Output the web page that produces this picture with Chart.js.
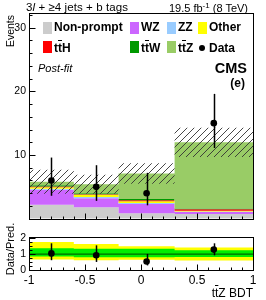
<!DOCTYPE html>
<html>
<head>
<meta charset="utf-8">
<title>ttZ BDT, 3l + 4 jets</title>
<script src="https://cdn.jsdelivr.net/npm/chart.js@4.4.1/dist/chart.umd.min.js"></script>
<style>
  body { margin: 0; background: #fff; }
  #page { position: relative; width: 266px; height: 300px; overflow: hidden; font-family: "Liberation Sans", Arial, Helvetica, sans-serif; color: #000; }
  #page canvas { position: absolute; left: 0; }
  .txt { position: absolute; white-space: nowrap; line-height: 1; }
  .bar { text-decoration: overline; }
  .leg { position: absolute; font-weight: bold; font-size: 12px; line-height: 1; white-space: nowrap; }
  .box { position: absolute; width: 9px; height: 12px; }
  .dot { position: absolute; width: 6px; height: 6px; border-radius: 50%; background: #000; }
  .rot { position: absolute; transform-origin: 0 0; transform: rotate(-90deg); white-space: nowrap; line-height: 1; }
</style>
</head>
<body>
<div id="page">
  <canvas id="mainChart" width="266" height="228" style="top:0"></canvas>
  <canvas id="ratioChart" width="266" height="72" style="top:228px"></canvas>

  <div id="hdrLeft" class="txt" style="left:26px;top:2px;font-size:11.5px">3<i>l</i> + ≥4 jets + b tags</div>
  <div id="hdrRight" class="txt" style="right:18px;top:2px;font-size:11px">19.5 fb<sup style="font-size:8px;vertical-align:4px">-1</sup> (8 TeV)</div>

  <div class="box" style="left:43px;top:22px;background:#cccccc"></div>
  <div class="leg" style="left:54px;top:21px">Non-prompt</div>
  <div class="box" style="left:130px;top:22px;background:#cc66ff"></div>
  <div class="leg" style="left:141px;top:21px">WZ</div>
  <div class="box" style="left:167px;top:22px;background:#99ccff"></div>
  <div class="leg" style="left:178px;top:21px">ZZ</div>
  <div class="box" style="left:198px;top:22px;background:#ffff00"></div>
  <div class="leg" style="left:209px;top:21px">Other</div>

  <div class="box" style="left:43px;top:41px;background:#ff0000"></div>
  <div class="leg" style="left:54px;top:42px">t<span class="bar">t</span>H</div>
  <div class="box" style="left:130px;top:41px;background:#009900"></div>
  <div class="leg" style="left:141px;top:42px">t<span class="bar">t</span>W</div>
  <div class="box" style="left:167px;top:41px;background:#99cc66"></div>
  <div class="leg" style="left:178px;top:42px">t<span class="bar">t</span>Z</div>
  <div class="dot" style="left:199px;top:45px"></div>
  <div class="leg" style="left:209px;top:42px">Data</div>

  <div class="txt" style="left:38px;top:63px;font-size:11px;font-style:italic">Post-fit</div>
  <div class="txt" style="right:19px;top:61px;font-size:14.5px;font-weight:bold">CMS</div>
  <div class="txt" style="right:21px;top:77px;font-size:12px;font-weight:bold">(e)</div>

  <div class="rot" style="left:5px;top:100px;width:85px;text-align:right;font-size:10.5px">Events</div>
  <div class="rot" style="left:5px;top:289px;width:80px;text-align:center;font-size:11px">Data/Pred.</div>
  <div class="txt" style="right:13px;top:287px;font-size:12px">t<span class="bar">t</span>Z BDT</div>
</div>

<script>
const binEdges = [-1, -0.6, -0.2, 0.3, 1];
const binCenters = [-0.8, -0.4, 0.05, 0.65];

// stack, bottom to top
const nonPrompt = [2.2, 1.8, 0.85, 0.75];
const wz = [2.35, 1.4, 1.45, 0.35];
const zz = [0.15, 0.2, 0.15, 0.05];
const other = [0.25, 0.35, 0.3, 0.1];
const ttH = [0.1, 0.1, 0.15, 0.25];
const ttW = [0.2, 0.15, 0.2, 0.1];
const ttZ = [0.55, 1.4, 4.0, 10.4];
const bkgUnc = [1.9, 1.5, 1.6, 2.3];

const dataCounts = [6, 5, 4, 15];
const dataLow = [3.6, 2.8, 2.1, 11.1];
const dataHigh = [9.6, 8.4, 7.2, 19.6];

const ratioVal = [1.05, 0.93, 0.54, 1.29];
const ratioLow = [0.62, 0.51, 0.29, 0.93];
const ratioHigh = [1.69, 1.56, 1.02, 1.69];
const greenLow = [0.85, 0.8, 0.8, 0.83];
const greenHigh = [1.37, 1.34, 1.34, 1.25];
const yellowLow = [0.66, 0.62, 0.65, 0.6];
const yellowHigh = [1.78, 1.65, 1.5, 1.43];
const refLine = 1;

const mainYTicks = [10, 20, 30];
const ratioYTicks = [0, 1, 2];
const xTicks = [-1, -0.5, 0, 0.5, 1];

const FONT = '"Liberation Sans", Arial, Helvetica, sans-serif';

// stretch a header line to the width it has in the original
function fitWidth(id, target) {
  const el = document.getElementById(id);
  const w = el.getBoundingClientRect().width;
  const n = el.textContent.length;
  if (w < target) el.style.letterSpacing = ((target - w) / n).toFixed(2) + 'px';
}
fitWidth('hdrLeft', 102);
fitWidth('hdrRight', 77);

// histogram steps: point i sits on the left edge of bin i, last edge repeats the last bin
function stepData(vals) {
  return binEdges.map((x, i) => ({ x, y: vals[Math.min(i, vals.length - 1)] }));
}

function hatchPattern() {
  const c = document.createElement('canvas');
  c.width = 7;
  c.height = 7;
  const g = c.getContext('2d');
  g.strokeStyle = '#333';
  g.lineWidth = 0.9;
  g.beginPath();
  g.moveTo(0, 7); g.lineTo(7, 0);
  g.moveTo(-1, 1); g.lineTo(1, -1);
  g.moveTo(6, 8); g.lineTo(8, 6);
  g.stroke();
  return g.createPattern(c, 'repeat');
}

function range(from, to, step) {
  const out = [];
  for (let v = from; v <= to + 1e-9; v += step) out.push(Math.round(v * 1000) / 1000);
  return out;
}

// ROOT-like frame: inside ticks, box, error bars
const rootFrame = {
  id: 'rootFrame',
  afterDatasetsDraw(chart, args, opts) {
    const { ctx, chartArea: a, scales } = chart;
    ctx.save();

    if (opts.err) {
      ctx.strokeStyle = '#000';
      ctx.lineWidth = 1.5;
      opts.err.x.forEach((x, i) => {
        const px = Math.round(scales.x.getPixelForValue(x)) + 0.5;
        ctx.beginPath();
        ctx.moveTo(px, scales.y.getPixelForValue(opts.err.lo[i]));
        ctx.lineTo(px, scales.y.getPixelForValue(opts.err.hi[i]));
        ctx.stroke();
      });
    }

    ctx.strokeStyle = '#000';
    ctx.lineWidth = 1;
    ctx.beginPath();
    const left = Math.round(a.left) + 0.5;
    const bottom = Math.round(a.bottom) + 0.5;
    opts.yMinor.forEach((v) => {
      const py = Math.round(scales.y.getPixelForValue(v)) + 0.5;
      const len = opts.yMajor.includes(v) ? 6 : 3;
      ctx.moveTo(left, py); ctx.lineTo(left + len, py);
    });
    opts.xMinor.forEach((v) => {
      const px = Math.round(scales.x.getPixelForValue(v)) + 0.5;
      const len = opts.xMajor.includes(v) ? 6 : 3;
      ctx.moveTo(px, bottom); ctx.lineTo(px, bottom - len);
    });
    ctx.stroke();

    ctx.strokeRect(left, Math.round(a.top) + 0.5, Math.round(a.right) - Math.round(a.left), Math.round(a.bottom) - Math.round(a.top));
    ctx.restore();
  },
};

const xMinorTicks = range(-1, 1, 0.1);

// main panel
const stackParts = [nonPrompt, wz, zz, other, ttH, ttW, ttZ];
const stackColors = ['#cccccc', '#cc66ff', '#99ccff', '#ffff00', '#ff0000', '#009900', '#99cc66'];
let total = [0, 0, 0, 0];
const datasets = stackParts.map((part, k) => {
  total = total.map((v, i) => v + part[i]);
  return {
    data: stepData(total),
    stepped: 'before',
    fill: k === 0 ? 'origin' : '-1',
    backgroundColor: stackColors[k],
    borderWidth: 0,
    pointRadius: 0,
    order: 20 - k,
  };
});

datasets.push({
  data: stepData(total.map((v, i) => v - bkgUnc[i])),
  stepped: 'before',
  fill: false,
  borderWidth: 0,
  pointRadius: 0,
  order: 3,
});
datasets.push({
  data: stepData(total.map((v, i) => v + bkgUnc[i])),
  stepped: 'before',
  fill: '-1',
  backgroundColor: hatchPattern(),
  borderWidth: 0,
  pointRadius: 0,
  order: 2,
});
datasets.push({
  data: binCenters.map((x, i) => ({ x, y: dataCounts[i] })),
  showLine: false,
  pointRadius: 3.3,
  pointBackgroundColor: '#000',
  pointBorderWidth: 0,
  order: 1,
});

new Chart(document.getElementById('mainChart'), {
  type: 'line',
  data: { datasets },
  options: {
    responsive: false,
    animation: false,
    devicePixelRatio: 1,
    layout: { padding: { left: 0, right: 13, top: 13, bottom: 3.5 } },
    plugins: {
      legend: { display: false },
      tooltip: { enabled: false },
      rootFrame: {
        yMajor: mainYTicks,
        yMinor: range(0, 32, 2),
        xMajor: xTicks,
        xMinor: xMinorTicks,
        err: { x: binCenters, lo: dataLow, hi: dataHigh },
      },
    },
    scales: {
      x: { type: 'linear', min: -1, max: 1, display: false },
      y: {
        type: 'linear',
        min: 0,
        max: 32.3,
        afterFit(s) { s.width = 29; },
        afterBuildTicks(s) { s.ticks = mainYTicks.map((v) => ({ value: v })); },
        ticks: { color: '#000', padding: 3, font: { size: 10.5, family: FONT } },
        grid: { display: false, drawTicks: false },
        border: { display: false },
      },
    },
  },
  plugins: [rootFrame],
});

// ratio panel
new Chart(document.getElementById('ratioChart'), {
  type: 'line',
  data: {
    datasets: [
      { data: stepData(yellowHigh), stepped: 'before', fill: '+1', backgroundColor: '#ffff00', borderWidth: 0, pointRadius: 0, order: 10 },
      { data: stepData(yellowLow), stepped: 'before', fill: false, borderWidth: 0, pointRadius: 0, order: 9 },
      { data: stepData(greenHigh), stepped: 'before', fill: '+1', backgroundColor: '#00ee00', borderWidth: 0, pointRadius: 0, order: 8 },
      { data: stepData(greenLow), stepped: 'before', fill: false, borderWidth: 0, pointRadius: 0, order: 7 },
      { data: [{ x: -1, y: refLine }, { x: 1, y: refLine }], borderColor: '#006600', borderWidth: 1.2, pointRadius: 0, fill: false, order: 2 },
      {
        data: binCenters.map((x, i) => ({ x, y: ratioVal[i] })),
        showLine: false,
        pointRadius: 3.3,
        pointBackgroundColor: '#000',
        pointBorderWidth: 0,
        order: 1,
      },
    ],
  },
  options: {
    responsive: false,
    animation: false,
    devicePixelRatio: 1,
    layout: { padding: { left: 0, right: 13, top: 4, bottom: 0 } },
    plugins: {
      legend: { display: false },
      tooltip: { enabled: false },
      rootFrame: {
        yMajor: ratioYTicks,
        yMinor: range(0, 2, 0.25),
        xMajor: xTicks,
        xMinor: xMinorTicks,
        err: { x: binCenters, lo: ratioLow, hi: ratioHigh },
      },
    },
    scales: {
      x: {
        type: 'linear',
        min: -1,
        max: 1,
        afterFit(s) { s.height = 30; },
        afterBuildTicks(s) { s.ticks = xTicks.map((v) => ({ value: v })); },
        ticks: { color: '#000', padding: 3, maxRotation: 0, autoSkip: false, font: { size: 12, family: FONT }, callback: (v) => String(v) },
        grid: { display: false, drawTicks: false },
        border: { display: false },
      },
      y: {
        type: 'linear',
        min: 0,
        max: 2.07,
        afterFit(s) { s.width = 29; },
        afterBuildTicks(s) { s.ticks = ratioYTicks.map((v) => ({ value: v })); },
        ticks: { color: '#000', padding: 3, font: { size: 10.5, family: FONT } },
        grid: { display: false, drawTicks: false },
        border: { display: false },
      },
    },
  },
  plugins: [rootFrame],
});
</script>
</body>
</html>
